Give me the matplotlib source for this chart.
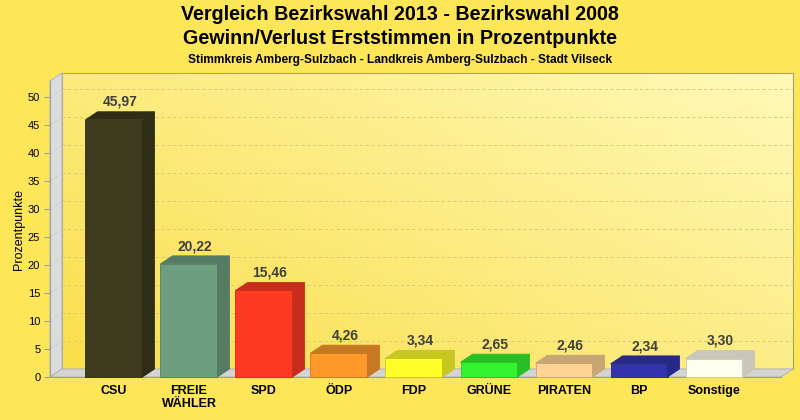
import numpy as np
import matplotlib.pyplot as plt
from matplotlib.patches import Polygon
from matplotlib.colors import to_rgb

plt.rcParams['font.family'] = ['Liberation Sans', 'DejaVu Sans']

# Data
parties = ['CSU', 'FREIE\nWÄHLER', 'SPD', 'ÖDP', 'FDP', 'GRÜNE', 'PIRATEN', 'BP', 'Sonstige']
values = [45.97, 20.22, 15.46, 4.26, 3.34, 2.65, 2.46, 2.34, 3.30]
colors = ['#3d3a1e', '#6e9e80', '#ff3a22', '#ff9a2a', '#ffff2a', '#33f52e', '#ffd395', '#3333b0', '#fffff0']
y_ticks = [0, 5, 10, 15, 20, 25, 30, 35, 40, 45, 50]

bg = '#fee659'
fig = plt.figure(figsize=(8, 4.2), dpi=100, facecolor=bg)

# front plane in pixels: x 50..781, y 377 (0) .. 81 (top)
ax = fig.add_axes([50 / 800, (420 - 377) / 420, 731 / 800, (377 - 81) / 420])
ax.set_facecolor('none')
xmin, xmax = -0.853, 8.893
ymax = 52.9
ax.set_xlim(xmin, xmax)
ax.set_ylim(0, ymax)

px_x = 731 / (xmax - xmin)
px_y = 296 / ymax
dx = 12 / px_x
dy = 8 / px_y

# back wall gradient
grad = np.zeros((50, 50, 3))
c1 = np.array(to_rgb('#fadf4c'))
c2 = np.array(to_rgb('#fff9b8'))
for i in range(50):
    for j in range(50):
        t = (j / 49) * 0.55 + ((49 - i) / 49) * 0.45
        grad[i, j] = c1 * (1 - t) + c2 * t
ax.imshow(grad, extent=[xmin + dx, xmax + dx, dy, ymax + dy], aspect='auto',
          origin='upper', zorder=0, clip_on=False)
ax.add_patch(Polygon([(xmin + dx, dy), (xmax + dx, dy), (xmax + dx, ymax + dy), (xmin + dx, ymax + dy)],
                     closed=True, fill=False, edgecolor='#b0a070', lw=0.8, zorder=1, clip_on=False))

# left side wall
ax.add_patch(Polygon([(xmin, 0), (xmin + dx, dy), (xmin + dx, ymax + dy), (xmin, ymax)],
                     closed=True, facecolor='#dcdcdc', edgecolor='#b8b8b8', lw=0.8, zorder=1, clip_on=False))
# floor
ax.add_patch(Polygon([(xmin, 0), (xmax, 0), (xmax + dx, dy), (xmin + dx, dy)],
                     closed=True, facecolor='#d4d4d4', edgecolor='#b8b8b8', lw=0.8, zorder=1, clip_on=False))

# grid lines on back wall
for t in y_ticks[1:]:
    ax.plot([xmin + dx, xmax + dx], [t + dy, t + dy], ls=(0, (3, 3)), color='#d8c878', lw=0.7,
            zorder=1, clip_on=False)
    ax.plot([xmin, xmin + dx], [t, t + dy], ls=(0, (3, 3)), color='#c8c8c8', lw=0.7,
            zorder=1, clip_on=False)

# bars
w = 57 / px_x
for i, (v, c) in enumerate(zip(values, colors)):
    base = np.array(to_rgb(c))
    dark = tuple(base * 0.78)
    l, r = i - w / 2, i + w / 2
    ax.add_patch(Polygon([(l, 0), (r, 0), (r, v), (l, v)], closed=True, facecolor=c,
                         edgecolor=dark, lw=0.6, zorder=3, clip_on=False))
    ax.add_patch(Polygon([(r, 0), (r + dx, dy), (r + dx, v + dy), (r, v)], closed=True,
                         facecolor=dark, edgecolor=dark, lw=0.6, zorder=3, clip_on=False))
    ax.add_patch(Polygon([(l, v), (r, v), (r + dx, v + dy), (l + dx, v + dy)], closed=True,
                         facecolor=dark, edgecolor=dark, lw=0.6, zorder=3, clip_on=False))
    ax.text(i + dx / 2, v + dy + 0.5, f'{v:.2f}'.replace('.', ','), ha='center', va='bottom',
            fontsize=10, fontweight='bold', color='#404040', zorder=4)

for s in ['top', 'right']:
    ax.spines[s].set_visible(False)
ax.spines['left'].set_color('#a0a0a0')
ax.spines['bottom'].set_color('#a0a0a0')
ax.set_yticks(y_ticks)
ax.set_yticklabels([str(t) for t in y_ticks], fontsize=8)
ax.set_xticks(range(len(parties)))
ax.set_xticklabels(parties, fontsize=9, fontweight='bold', linespacing=1.1)
ax.tick_params(axis='x', length=0, pad=6)
ax.tick_params(axis='y', length=4, color='#a0a0a0', pad=3)
ax.set_ylabel('Prozentpunkte', fontsize=9, labelpad=2)

fig.text(0.5, 1 - 15 / 420, 'Vergleich Bezirkswahl 2013 - Bezirkswahl 2008', ha='center', va='center',
         fontsize=14.2, fontweight='bold')
fig.text(0.5, 1 - 39 / 420, 'Gewinn/Verlust Erststimmen in Prozentpunkte', ha='center', va='center',
         fontsize=14.2, fontweight='bold')
fig.text(0.5, 1 - 60 / 420, 'Stimmkreis Amberg-Sulzbach - Landkreis Amberg-Sulzbach - Stadt Vilseck',
         ha='center', va='center', fontsize=8.6, fontweight='bold')

fig.savefig('out.png', dpi=100, facecolor=bg)
